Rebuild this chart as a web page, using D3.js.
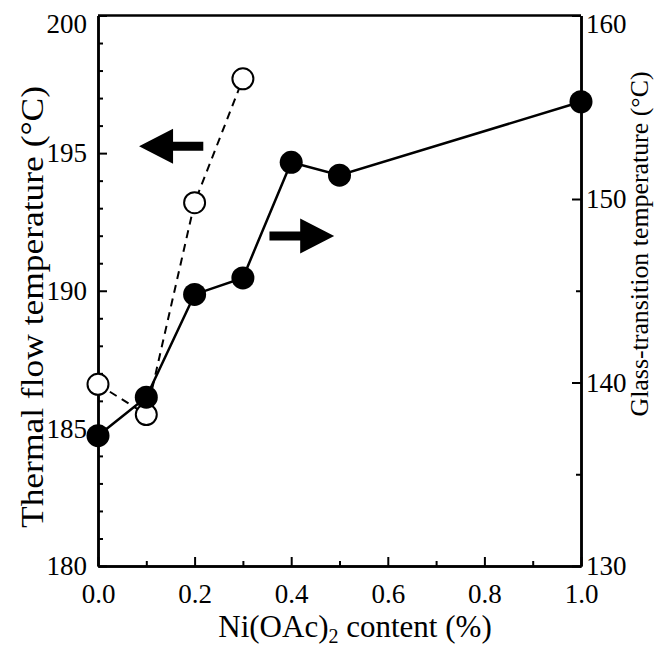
<!DOCTYPE html>
<html>
<head>
<meta charset="utf-8">
<script src="https://cdn.jsdelivr.net/npm/d3@7"></script>
<style>
  html, body { margin: 0; padding: 0; background: #fff; }
  svg { display: block; }
</style>
</head>
<body>
<svg id="chart" width="660" height="646"></svg>
<script>
// ---- data ----
const flowX = [0.0, 0.1, 0.2, 0.3];
const flowTemp = [186.6, 185.5, 193.2, 197.7];           // open circles, left axis
const glassX = [0.0, 0.1, 0.2, 0.3, 0.4, 0.5, 1.0];
const glassTemp = [137.1, 139.2, 144.8, 145.7, 152.0, 151.3, 155.3]; // filled, right axis
const xTicks = [0.0, 0.2, 0.4, 0.6, 0.8, 1.0];
const xMinor = [0.1, 0.3, 0.5, 0.7, 0.9];
const leftTicks = [180, 185, 190, 195, 200];
const leftMinor = [181,182,183,184,186,187,188,189,191,192,193,194,196,197,198,199];
const rightTicks = [130, 140, 150, 160];
const rightMinor = [135, 145, 155];
// arrow annotations (data units): [xTail, xTip, value]
const leftArrow = [0.218, 0.085, 195.25];
const rightArrow = [0.355, 0.489, 147.98];

const SERIF = '"Liberation Serif", "Times New Roman", Times, serif';

// ---- scales ----
const svg = d3.select("#chart").style("font-family", SERIF);
const x = d3.scaleLinear([0, 1], [98, 581]);
const yL = d3.scaleLinear([180, 200], [566, 15.5]);
const yR = d3.scaleLinear([130, 160], [566, 15.5]);

const fontTick = 27;

function styleAxis(g) {
  g.attr("font-family", null).style("font-family", SERIF);
  g.select(".domain").attr("stroke", "#000").attr("stroke-width", 2.5);
  g.selectAll(".tick line").attr("stroke", "#000").attr("stroke-width", 2);
  g.selectAll(".tick text").style("font-family", SERIF).style("font-size", fontTick + "px").attr("fill", "#000");
}

// top frame line
svg.append("line")
  .attr("x1", x(0)).attr("x2", x(1))
  .attr("y1", yL(200)).attr("y2", yL(200))
  .attr("stroke", "#000").attr("stroke-width", 2.5);

// bottom axis
const gx = svg.append("g").attr("transform", `translate(0,${yL(180)})`)
  .call(d3.axisBottom(x).tickValues(xTicks).tickFormat(d3.format(".1f"))
    .tickSize(-9).tickSizeOuter(0).tickPadding(18));
styleAxis(gx);
const gxm = svg.append("g").attr("transform", `translate(0,${yL(180)})`)
  .call(d3.axisBottom(x).tickValues(xMinor).tickFormat("").tickSize(-5).tickSizeOuter(0));
styleAxis(gxm);

// left axis
const gl = svg.append("g").attr("transform", `translate(${x(0)},0)`)
  .call(d3.axisLeft(yL).tickValues(leftTicks).tickFormat(d3.format("d"))
    .tickSize(-9).tickSizeOuter(0).tickPadding(11));
styleAxis(gl);
gl.selectAll(".tick text").filter(d => d === 200).attr("dy", "0.62em");
const glm = svg.append("g").attr("transform", `translate(${x(0)},0)`)
  .call(d3.axisLeft(yL).tickValues(leftMinor).tickFormat("").tickSize(-5).tickSizeOuter(0));
styleAxis(glm);

// right axis
const gr = svg.append("g").attr("transform", `translate(${x(1)},0)`)
  .call(d3.axisRight(yR).tickValues(rightTicks).tickFormat(d3.format("d"))
    .tickSize(-9).tickSizeOuter(0).tickPadding(5));
styleAxis(gr);
gr.selectAll(".tick text").filter(d => d === 160).attr("dy", "0.62em");
const grm = svg.append("g").attr("transform", `translate(${x(1)},0)`)
  .call(d3.axisRight(yR).tickValues(rightMinor).tickFormat("").tickSize(-5).tickSizeOuter(0));
styleAxis(grm);

// ---- series: thermal flow (open, dashed, left axis) ----
const flowData = flowX.map((v, i) => ({x: v, y: flowTemp[i]}));
svg.append("path")
  .datum(flowData)
  .attr("fill", "none").attr("stroke", "#000").attr("stroke-width", 2)
  .attr("stroke-dasharray", "8,6")
  .attr("d", d3.line().x(d => x(d.x)).y(d => yL(d.y)));
svg.append("g").selectAll("circle").data(flowData).join("circle")
  .attr("cx", d => x(d.x)).attr("cy", d => yL(d.y)).attr("r", 10.5)
  .attr("fill", "#fff").attr("stroke", "#000").attr("stroke-width", 2);

// ---- series: glass transition (filled, solid, right axis) ----
const glassData = glassX.map((v, i) => ({x: v, y: glassTemp[i]}));
svg.append("path")
  .datum(glassData)
  .attr("fill", "none").attr("stroke", "#000").attr("stroke-width", 2.5)
  .attr("d", d3.line().x(d => x(d.x)).y(d => yR(d.y)));
svg.append("g").selectAll("circle").data(glassData).join("circle")
  .attr("cx", d => x(d.x)).attr("cy", d => yR(d.y)).attr("r", 11.5)
  .attr("fill", "#000");

// ---- arrows ----
function arrow(x0, x1, yy) {
  const dir = Math.sign(x1 - x0);
  const headLen = 34, halfH = 17.5, shaftH = 4.5;
  const hb = x1 - dir * headLen;
  const pts = [[x0, yy - shaftH], [hb, yy - shaftH], [hb, yy - halfH], [x1, yy],
               [hb, yy + halfH], [hb, yy + shaftH], [x0, yy + shaftH]];
  svg.append("path").attr("d", "M" + pts.map(p => p.join(",")).join("L") + "Z").attr("fill", "#000");
}
arrow(x(leftArrow[0]), x(leftArrow[1]), yL(leftArrow[2]));
arrow(x(rightArrow[0]), x(rightArrow[1]), yR(rightArrow[2]));

// ---- titles ----
svg.append("text")
  .attr("transform", "translate(43,307) rotate(-90)")
  .attr("text-anchor", "middle")
  .style("font-family", SERIF).style("font-size", "32px")
  .attr("textLength", 442).attr("lengthAdjust", "spacingAndGlyphs")
  .text("Thermal flow temperature (°C)");

svg.append("text")
  .attr("transform", "translate(648,244) rotate(-90)")
  .attr("text-anchor", "middle")
  .style("font-family", SERIF).style("font-size", "25px")
  .attr("textLength", 345).attr("lengthAdjust", "spacingAndGlyphs")
  .text("Glass-transition temperature (°C)");

const bt = svg.append("text")
  .attr("x", 355).attr("y", 637)
  .attr("text-anchor", "middle")
  .style("font-family", SERIF).style("font-size", "31px");
bt.append("tspan").text("Ni(OAc)");
bt.append("tspan").style("font-size", "20px").attr("dy", 6).text("2");
bt.append("tspan").attr("dy", -6).text(" content (%)");
</script>
</body>
</html>
